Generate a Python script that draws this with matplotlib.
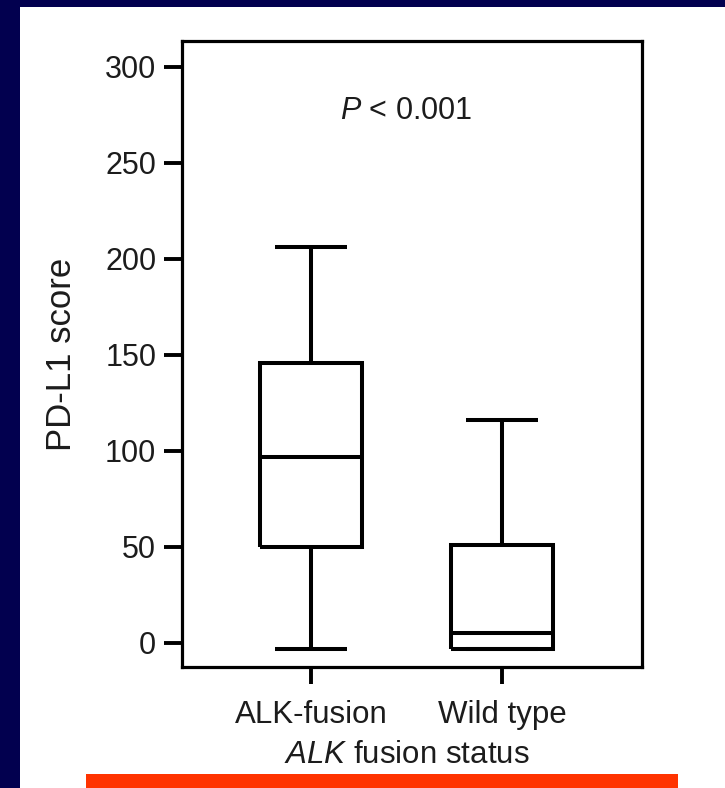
import matplotlib

matplotlib.use("Agg")
import matplotlib.pyplot as plt
from matplotlib.patches import Rectangle

# Box summary values (PD-L1 score)
groups = ["ALK-fusion", "Wild type"]
whisker_low = [-3, -3]
q1 = [50, -3]
medians = [97, 5]
q3 = [146, 51]
whisker_high = [206, 116]

y_ticks = [0, 50, 100, 150, 200, 250, 300]

NAVY = "#02004f"
RED = "#ff3300"
INK = "#1c1c1c"

plt.rcParams["font.family"] = ["Liberation Sans", "DejaVu Sans"]
plt.rcParams["mathtext.fontset"] = "custom"
plt.rcParams["mathtext.rm"] = "Liberation Sans"
plt.rcParams["mathtext.it"] = "Liberation Sans:italic"
plt.rcParams["lines.solid_capstyle"] = "butt"
plt.rcParams["lines.solid_joinstyle"] = "miter"

W, H = 725, 788
fig = plt.figure(figsize=(W / 100, H / 100), dpi=100)
fig.patch.set_facecolor(NAVY)

# white slide panel and the red rule under the chart (kept behind the axes)
fig.patches.append(Rectangle((20 / W, 0), 1 - 20 / W, 1 - 7 / H,
                             transform=fig.transFigure, facecolor="white",
                             edgecolor="none", zorder=-2))
fig.patches.append(Rectangle((86 / W, 0), (678 - 86) / W, 14 / H,
                             transform=fig.transFigure, facecolor=RED,
                             edgecolor="none", zorder=-1))

ax = fig.add_axes([182 / W, 1 - 667 / H, 460 / W, 626 / H])
ax.set_zorder(2)
ax.set_facecolor("white")

stats = [
    {"whislo": lo, "q1": a, "med": m, "q3": b, "whishi": hi, "label": g}
    for g, lo, a, m, b, hi in zip(groups, whisker_low, q1, medians, q3, whisker_high)
]
lw = 2.9
ax.bxp(
    stats,
    positions=[1, 2],
    widths=0.53,
    capwidths=0.38,
    showfliers=False,
    boxprops=dict(color="black", linewidth=lw),
    whiskerprops=dict(color="black", linewidth=lw),
    capprops=dict(color="black", linewidth=lw),
    medianprops=dict(color="black", linewidth=lw),
)

ax.set_xlim(0.325, 2.733)
ax.set_ylim(-12.5, 313.5)
ax.set_yticks(y_ticks)
ax.set_xticks([1, 2])
ax.set_xticklabels(groups)

for spine in ax.spines.values():
    spine.set_linewidth(2.3)
    spine.set_color("black")

ax.tick_params(axis="y", length=13, width=2.8, pad=5.5, labelsize=22,
               labelcolor=INK, color="black")
ax.tick_params(axis="x", length=12.5, width=2.8, pad=11, labelsize=22.5,
               labelcolor=INK, color="black")

ax.text(-0.263, 0.5, "PD-L1 score", transform=ax.transAxes, rotation=90,
        ha="center", va="center", fontsize=25, color=INK)
ax.text(1.5, -0.153, r"$\it{ALK}$ fusion status",
        transform=ax.get_xaxis_transform(), ha="center", va="baseline",
        fontsize=22.5, color=INK, clip_on=False)
ax.text(1.5, 273, r"$\it{P}$ < 0.001", ha="center", va="baseline",
        fontsize=22, color=INK)

fig.savefig("out.png", dpi=100, facecolor=NAVY)
